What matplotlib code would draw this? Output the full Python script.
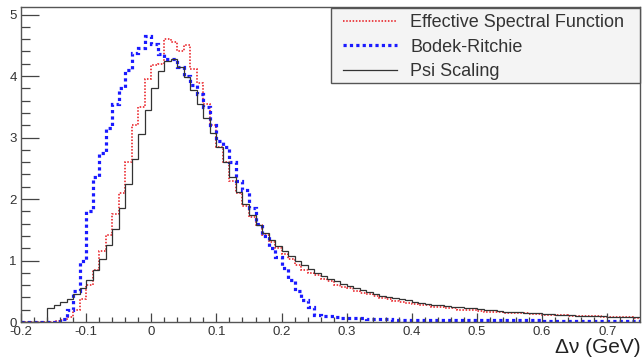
"""
Delta-nu distributions: effective spectral function vs Bodek-Ritchie vs psi scaling.
"""

import matplotlib
matplotlib.use('Agg')
import matplotlib.pyplot as plt
from matplotlib.patches import Rectangle
import numpy as np

plt.rcParams['font.family'] = ['Liberation Sans', 'DejaVu Sans']

# histogram range (GeV), 0.01 GeV bins
X_MIN, X_MAX, N_BINS = -0.2, 0.75, 95

# Effective Spectral Function (red dotted)
esf = [0, 0, 0, 0, 0, 0.01, 0.03, 0.08, 0.2, 0.38,
       0.6, 0.85, 1.15, 1.42, 1.75, 2.1, 2.6, 3.2, 3.5, 3.95,
       4.18, 4.2, 4.6, 4.55, 4.4, 4.5, 4.12, 3.88, 3.55, 3.2,
       2.85, 2.6, 2.3, 2.1, 1.88, 1.7, 1.58, 1.42, 1.3, 1.2,
       1.1, 1.02, 0.93, 0.85, 0.8, 0.76, 0.70, 0.66, 0.6, 0.57,
       0.55, 0.5, 0.47, 0.46, 0.42, 0.39, 0.38, 0.34, 0.33, 0.31,
       0.29, 0.27, 0.27, 0.25, 0.24, 0.22, 0.22, 0.20, 0.20, 0.19,
       0.18, 0.17, 0.17, 0.16, 0.15, 0.15, 0.14, 0.14, 0.13, 0.13,
       0.12, 0.12, 0.11, 0.11, 0.10, 0.10, 0.095, 0.09, 0.09, 0.085,
       0.08, 0.08, 0.075, 0.075, 0.07]

# Bodek-Ritchie (blue dashed)
bodek = [0, 0, 0, 0, 0, 0, 0.05, 0.2, 0.5, 1.0,
         1.8, 2.35, 2.75, 3.15, 3.55, 3.8, 4.1, 4.38, 4.45, 4.65,
         4.52, 4.35, 4.28, 4.28, 4.15, 4.0, 3.85, 3.7, 3.5, 3.2,
         2.95, 2.85, 2.6, 2.3, 2.15, 1.85, 1.6, 1.4, 1.2, 1.05,
         0.88, 0.68, 0.5, 0.36, 0.24, 0.12, 0.1, 0.1, 0.08, 0.07,
         0.07, 0.06, 0.06, 0.055, 0.05, 0.05, 0.045, 0.04, 0.04, 0.035,
         0.035, 0.03, 0.03, 0.03, 0.03, 0.03, 0.03, 0.03, 0.03, 0.03,
         0.025, 0.025, 0.025, 0.025, 0.025, 0.025, 0.025, 0.025, 0.025, 0.025,
         0.02, 0.02, 0.02, 0.02, 0.02, 0.02, 0.02, 0.02, 0.02, 0.02,
         0.02, 0.02, 0.02, 0.02, 0.02]

# Psi Scaling (black solid)
psi = [0, 0, 0, 0, 0.22, 0.27, 0.32, 0.38, 0.46, 0.56,
       0.68, 0.84, 1.03, 1.25, 1.52, 1.85, 2.25, 2.65, 3.05, 3.45,
       3.8, 4.08, 4.25, 4.27, 4.15, 3.98, 3.78, 3.55, 3.32, 3.08,
       2.85, 2.6, 2.35, 2.12, 1.92, 1.74, 1.58, 1.45, 1.34, 1.24,
       1.15, 1.07, 0.99, 0.92, 0.86, 0.80, 0.75, 0.70, 0.66, 0.62,
       0.58, 0.55, 0.52, 0.49, 0.46, 0.43, 0.41, 0.39, 0.37, 0.35,
       0.33, 0.31, 0.30, 0.28, 0.27, 0.26, 0.25, 0.24, 0.23, 0.22,
       0.21, 0.20, 0.19, 0.18, 0.17, 0.165, 0.16, 0.15, 0.145, 0.14,
       0.13, 0.125, 0.12, 0.115, 0.11, 0.105, 0.10, 0.098, 0.095, 0.09,
       0.088, 0.085, 0.08, 0.078, 0.075]

x_ticks = [-0.2, -0.1, 0, 0.1, 0.2, 0.3, 0.4, 0.5, 0.6, 0.7]
x_ticklabels = ['-0.2', '-0.1', '0', '0.1', '0.2', '0.3', '0.4', '0.5', '0.6', '0.7']
y_ticks = [0, 1, 2, 3, 4, 5]

edges = np.linspace(X_MIN, X_MAX, N_BINS + 1)

W, H = 644, 357
fig = plt.figure(figsize=(W / 100, H / 100), dpi=100)
ax = fig.add_axes([0.0326, 0.098, 0.961, 0.882])

ax.stairs(esf, edges, baseline=None, color='#e8141a', linewidth=1.1,
          linestyle=(0, (1, 1.1)), label='Effective Spectral Function')
ax.stairs(bodek, edges, baseline=None, color='#1a1aff', linewidth=2.3,
          linestyle=(0, (1, 1)), label='Bodek-Ritchie')
ax.stairs(psi, edges, baseline=None, color='#333333', linewidth=0.9,
          label='Psi Scaling')

ax.set_xlim(X_MIN, X_MAX)
ax.set_ylim(0, 5.12)

ax.set_xticks(x_ticks)
ax.set_xticklabels(x_ticklabels)
ax.set_xticks(np.arange(-0.2, 0.751, 0.02), minor=True)
ax.set_yticks(y_ticks)
ax.set_yticks(np.arange(0, 5.01, 0.2), minor=True)

ax.tick_params(axis='both', which='both', direction='in', colors='#444444',
               labelcolor='#333333', labelsize=9.5, width=0.9)
ax.tick_params(axis='y', which='major', length=13, pad=3)
ax.tick_params(axis='y', which='minor', length=6.5)
ax.tick_params(axis='x', which='major', length=6.5, pad=3)
ax.tick_params(axis='x', which='minor', length=3.3)

for side in ['left', 'bottom', 'top', 'right']:
    ax.spines[side].set_color('#555555')
    ax.spines[side].set_linewidth(1.0)

fig.text(0.994, 0.0, 'Δν (GeV)', ha='right', va='bottom', fontsize=15,
         color='#222222')

# ROOT-like legend box: frame drawn separately, entries on top
frame = Rectangle((331 / W, 1 - 83 / H), 309 / W, 75 / H, transform=fig.transFigure,
                  facecolor='#f4f4f4', edgecolor='#555555', linewidth=1.0, zorder=5)
fig.patches.append(frame)

handles, labels = ax.get_legend_handles_labels()
leg = fig.legend(handles, labels, loc='upper left',
                 bbox_to_anchor=(343 / W, 1 - 14 / H), bbox_transform=fig.transFigure,
                 fontsize=13, frameon=False, handlelength=3.0, handletextpad=0.72,
                 labelspacing=0.42, borderpad=0, borderaxespad=0)
leg.set_zorder(6)
for t in leg.get_texts():
    t.set_color('#333333')

plt.savefig('out.png', dpi=100, facecolor='white')
plt.close()
